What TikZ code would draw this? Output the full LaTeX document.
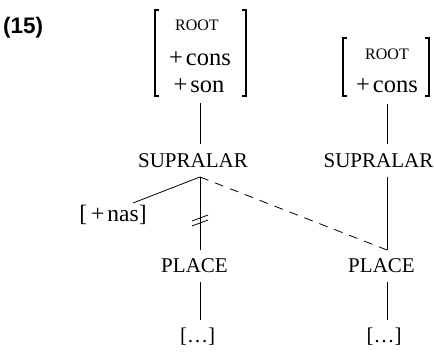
\documentclass[tikz,border=0pt]{standalone}
\usepackage{fontspec}
\setmainfont{Liberation Serif}
\newfontfamily\labelfont{Liberation Sans}
\begin{document}
\begin{tikzpicture}[x=1pt,y=-1pt,
  lbl/.style={inner sep=0pt,anchor=base,font=\fontsize{21}{25}\selectfont},
  feat/.style={inner sep=0pt,anchor=base,font=\fontsize{24.5}{28}\selectfont},
  sc/.style={inner sep=0pt,anchor=base,font=\fontsize{16}{18}\selectfont},
  edge/.style={line width=0.8pt},
  brk/.style={line width=1.2pt},
  dashedge/.style={line width=0.8pt,dash pattern=on 9pt off 7pt}]
\useasboundingbox (0,0) rectangle (434,352);

% example number
\node[inner sep=0pt,anchor=base west,font={\fontsize{22.5}{26}\labelfont\bfseries\selectfont}] (ex) at (3,34) {(15)};

% left feature matrix
\node[sc] (rootL) at (197,31) {ROOT};
\node[feat] (consL) at (200,66) {+\kern3pt cons};
\node[feat] (sonL) at (199,93) {+\kern3pt son};
\draw[brk] (159,10) -- (155,10) -- (155,96) -- (159,96);
\draw[brk] (242,10) -- (246,10) -- (246,96) -- (242,96);

% right feature matrix
\node[sc] (rootR) at (387,60) {ROOT};
\node[feat] (consR) at (387,93) {+\kern3pt cons};
\draw[brk] (347,38) -- (343,38) -- (343,96) -- (347,96);
\draw[brk] (425,38) -- (429,38) -- (429,96) -- (425,96);

% tier nodes
\node[lbl] (supL) at (193,168) {SUPRALAR};
\node[lbl] (supR) at (378.5,168) {SUPRALAR};
\node[feat,font=\fontsize{23.5}{27}\selectfont] (nas) at (113,222) {[\kern4pt+\kern3pt nas]};
\node[lbl] (placeL) at (194.5,273) {PLACE};
\node[lbl] (placeR) at (381.5,273) {PLACE};
\node[lbl] (dotsL) at (197.5,343) {[…]};
\node[lbl] (dotsR) at (384,343) {[…]};

% connector end points
\coordinate (boxLbot) at (200,103);
\coordinate (supLtop) at (200,144);
\coordinate (apexL) at (200,177);
\coordinate (nasend) at (133,203);
\coordinate (placeLtop) at (200,250);
\coordinate (placeLbot) at (200,282);
\coordinate (dotsLtop) at (200,320);
\coordinate (boxRbot) at (387,104);
\coordinate (supRtop) at (387,144);
\coordinate (supRbot) at (387,177);
\coordinate (placeRtop) at (387,250);
\coordinate (placeRbot) at (387,282);
\coordinate (dotsRtop) at (387,320);

% connectors
\draw[edge] (boxLbot) -- (supLtop);
\draw[edge] (apexL) -- (nasend);
\draw[edge] (apexL) -- (placeLtop);
\draw[dashedge] (apexL) -- (placeRtop);
\draw[edge] (placeLbot) -- (dotsLtop);
\draw[edge] (boxRbot) -- (supRtop);
\draw[edge] (supRbot) -- (placeRtop);
\draw[edge] (placeRbot) -- (dotsRtop);

% delinking marks
\draw[edge] (192,221) -- (208,215);
\draw[edge] (192,226) -- (208,220);
\end{tikzpicture}
\end{document}
